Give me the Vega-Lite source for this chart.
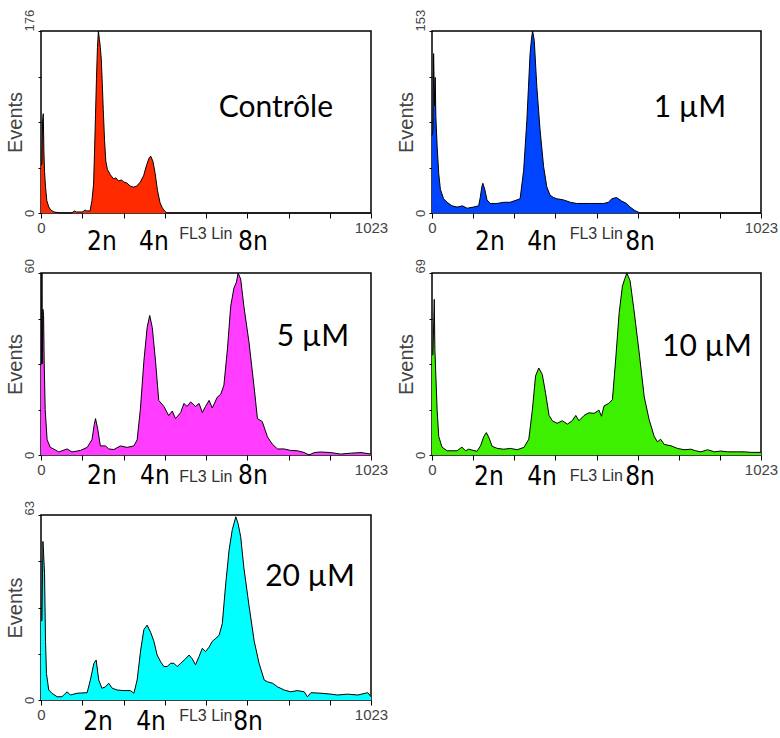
{
  "$schema": "https://vega.github.io/schema/vega-lite/v6.json",
  "background": "white",
  "padding": {"left": 4, "top": 8, "right": 5, "bottom": 0},
  "config": {
    "view": {"stroke": "#000", "strokeWidth": 1.5},
    "axis": {"grid": false, "domain": false, "tickColor": "#000", "labelColor": "#444", "labelFont": "Liberation Sans", "titleFont": "Liberation Sans", "titleFontWeight": "normal", "titleColor": "#444", "titleFontSize": 20, "format": "d", "labelOverlap": false, "labelBound": false},
    "axisX": {"tickSize": 5, "labelFontSize": 15, "labelPadding": 2, "labelFlush": false},
    "axisY": {"tickSize": 3, "labelFontSize": 13, "labelAngle": -90, "labelBaseline": "bottom", "labelPadding": 2, "titleFontSize": 20, "titlePadding": -2}
  },
  "datasets": {
    "ctrl": [{"ch":0,"ev":46},{"ch":3,"ev":48},{"ch":5,"ev":90},{"ch":7,"ev":96},{"ch":9,"ev":60},{"ch":11,"ev":40},{"ch":14,"ev":25},{"ch":18,"ev":12},{"ch":24,"ev":6},{"ch":30,"ev":3},{"ch":40,"ev":1},{"ch":60,"ev":0},{"ch":95,"ev":0},{"ch":104,"ev":2},{"ch":110,"ev":1},{"ch":130,"ev":1},{"ch":136,"ev":3},{"ch":142,"ev":2},{"ch":152,"ev":2},{"ch":158,"ev":12},{"ch":163,"ev":28},{"ch":166,"ev":60},{"ch":169,"ev":95},{"ch":172,"ev":130},{"ch":175,"ev":160},{"ch":178,"ev":176},{"ch":181,"ev":168},{"ch":184,"ev":160},{"ch":187,"ev":148},{"ch":190,"ev":125},{"ch":193,"ev":100},{"ch":197,"ev":70},{"ch":201,"ev":50},{"ch":206,"ev":42},{"ch":215,"ev":37},{"ch":225,"ev":33},{"ch":232,"ev":34},{"ch":240,"ev":31},{"ch":250,"ev":32},{"ch":256,"ev":30},{"ch":266,"ev":29},{"ch":277,"ev":26},{"ch":287,"ev":25},{"ch":297,"ev":26},{"ch":308,"ev":30},{"ch":318,"ev":36},{"ch":328,"ev":47},{"ch":335,"ev":53},{"ch":340,"ev":55},{"ch":347,"ev":50},{"ch":354,"ev":38},{"ch":361,"ev":22},{"ch":369,"ev":10},{"ch":376,"ev":5},{"ch":383,"ev":2},{"ch":390,"ev":0},{"ch":1023,"ev":0}],
    "um1": [{"ch":0,"ev":65},{"ch":3,"ev":70},{"ch":5,"ev":134},{"ch":8,"ev":90},{"ch":10,"ev":114},{"ch":12,"ev":81},{"ch":16,"ev":56},{"ch":21,"ev":33},{"ch":26,"ev":20},{"ch":36,"ev":12},{"ch":47,"ev":9},{"ch":62,"ev":6},{"ch":78,"ev":5},{"ch":95,"ev":6},{"ch":109,"ev":4},{"ch":129,"ev":5},{"ch":145,"ev":6},{"ch":150,"ev":13},{"ch":155,"ev":22},{"ch":158,"ev":25},{"ch":164,"ev":20},{"ch":171,"ev":11},{"ch":181,"ev":8},{"ch":202,"ev":8},{"ch":223,"ev":9},{"ch":243,"ev":9},{"ch":264,"ev":11},{"ch":274,"ev":12},{"ch":285,"ev":36},{"ch":295,"ev":78},{"ch":300,"ev":106},{"ch":305,"ev":134},{"ch":310,"ev":148},{"ch":313,"ev":153},{"ch":318,"ev":145},{"ch":326,"ev":106},{"ch":336,"ev":70},{"ch":347,"ev":39},{"ch":357,"ev":22},{"ch":367,"ev":15},{"ch":378,"ev":13},{"ch":388,"ev":12},{"ch":409,"ev":11},{"ch":430,"ev":9},{"ch":450,"ev":8},{"ch":492,"ev":8},{"ch":533,"ev":8},{"ch":549,"ev":9},{"ch":559,"ev":12},{"ch":574,"ev":13},{"ch":590,"ev":10},{"ch":605,"ev":8},{"ch":616,"ev":5},{"ch":631,"ev":2},{"ch":647,"ev":0},{"ch":1023,"ev":0}],
    "um5": [{"ch":0,"ev":30},{"ch":2,"ev":30},{"ch":3,"ev":60},{"ch":4,"ev":30},{"ch":6,"ev":48},{"ch":8,"ev":46},{"ch":10,"ev":30},{"ch":13,"ev":15},{"ch":19,"ev":5},{"ch":29,"ev":2.5},{"ch":39,"ev":2},{"ch":55,"ev":1},{"ch":81,"ev":2},{"ch":96,"ev":1},{"ch":122,"ev":1.5},{"ch":143,"ev":2.5},{"ch":158,"ev":5},{"ch":165,"ev":10},{"ch":169,"ev":12},{"ch":176,"ev":8.5},{"ch":184,"ev":3},{"ch":200,"ev":3},{"ch":210,"ev":2},{"ch":226,"ev":1.8},{"ch":246,"ev":3},{"ch":267,"ev":2.5},{"ch":288,"ev":3},{"ch":298,"ev":5},{"ch":308,"ev":15},{"ch":319,"ev":31},{"ch":329,"ev":42},{"ch":337,"ev":46},{"ch":345,"ev":42},{"ch":355,"ev":31},{"ch":365,"ev":18},{"ch":381,"ev":16},{"ch":396,"ev":13},{"ch":407,"ev":14.5},{"ch":417,"ev":12},{"ch":433,"ev":14},{"ch":443,"ev":17},{"ch":453,"ev":16},{"ch":464,"ev":17.5},{"ch":479,"ev":16},{"ch":490,"ev":17},{"ch":500,"ev":14},{"ch":510,"ev":16},{"ch":521,"ev":18},{"ch":531,"ev":15.5},{"ch":546,"ev":19},{"ch":557,"ev":20},{"ch":567,"ev":23},{"ch":578,"ev":35},{"ch":588,"ev":49},{"ch":598,"ev":55},{"ch":606,"ev":57},{"ch":611,"ev":60},{"ch":619,"ev":58},{"ch":629,"ev":49},{"ch":645,"ev":37},{"ch":660,"ev":23},{"ch":671,"ev":12},{"ch":686,"ev":11},{"ch":702,"ev":6},{"ch":717,"ev":3.6},{"ch":733,"ev":2},{"ch":753,"ev":2},{"ch":774,"ev":1.5},{"ch":795,"ev":1.4},{"ch":816,"ev":0.8},{"ch":831,"ev":0},{"ch":847,"ev":0.8},{"ch":867,"ev":1},{"ch":898,"ev":0.8},{"ch":929,"ev":0.3},{"ch":960,"ev":0.6},{"ch":992,"ev":0.8},{"ch":1023,"ev":0.3}],
    "um10": [{"ch":0,"ev":38},{"ch":3,"ev":38},{"ch":7,"ev":59},{"ch":9,"ev":40},{"ch":12,"ev":30},{"ch":16,"ev":17},{"ch":21,"ev":7},{"ch":31,"ev":3},{"ch":47,"ev":1.6},{"ch":78,"ev":1.6},{"ch":93,"ev":3},{"ch":104,"ev":1.6},{"ch":114,"ev":2.2},{"ch":140,"ev":1.4},{"ch":151,"ev":3.5},{"ch":161,"ev":7},{"ch":169,"ev":8.5},{"ch":177,"ev":6.6},{"ch":187,"ev":3.3},{"ch":203,"ev":2.5},{"ch":223,"ev":2.2},{"ch":244,"ev":2.5},{"ch":265,"ev":2},{"ch":286,"ev":2.9},{"ch":301,"ev":6},{"ch":312,"ev":17},{"ch":322,"ev":30},{"ch":332,"ev":33},{"ch":343,"ev":30.5},{"ch":353,"ev":23.6},{"ch":364,"ev":15},{"ch":374,"ev":13},{"ch":389,"ev":12},{"ch":405,"ev":13},{"ch":421,"ev":11.7},{"ch":436,"ev":13},{"ch":447,"ev":15},{"ch":457,"ev":13},{"ch":473,"ev":15},{"ch":488,"ev":16},{"ch":504,"ev":15.8},{"ch":519,"ev":17},{"ch":527,"ev":14.7},{"ch":535,"ev":18.6},{"ch":550,"ev":19.6},{"ch":561,"ev":21},{"ch":571,"ev":36},{"ch":582,"ev":54},{"ch":592,"ev":64},{"ch":600,"ev":67},{"ch":606,"ev":69},{"ch":616,"ev":66},{"ch":628,"ev":55},{"ch":644,"ev":39},{"ch":660,"ev":22},{"ch":675,"ev":13.5},{"ch":691,"ev":7},{"ch":701,"ev":5},{"ch":711,"ev":6},{"ch":722,"ev":4},{"ch":743,"ev":3.5},{"ch":763,"ev":2.5},{"ch":784,"ev":2},{"ch":805,"ev":2.2},{"ch":820,"ev":1.6},{"ch":836,"ev":1.2},{"ch":857,"ev":2},{"ch":878,"ev":1.2},{"ch":898,"ev":1.5},{"ch":919,"ev":1.2},{"ch":950,"ev":1.2},{"ch":971,"ev":1.2},{"ch":992,"ev":1},{"ch":1023,"ev":1}],
    "um20": [{"ch":0,"ev":27},{"ch":3,"ev":27},{"ch":6,"ev":54},{"ch":8,"ev":50},{"ch":11,"ev":43},{"ch":14,"ev":20},{"ch":17,"ev":9},{"ch":24,"ev":3.4},{"ch":34,"ev":2.3},{"ch":50,"ev":1.1},{"ch":65,"ev":1.1},{"ch":81,"ev":2.8},{"ch":91,"ev":1.7},{"ch":112,"ev":2.3},{"ch":143,"ev":2.5},{"ch":153,"ev":6.8},{"ch":164,"ev":12.5},{"ch":171,"ev":13.6},{"ch":179,"ev":6.8},{"ch":189,"ev":4},{"ch":200,"ev":4.5},{"ch":210,"ev":5.7},{"ch":221,"ev":4},{"ch":236,"ev":3.4},{"ch":257,"ev":3.2},{"ch":277,"ev":3.2},{"ch":288,"ev":2.3},{"ch":298,"ev":6.8},{"ch":309,"ev":17},{"ch":319,"ev":24},{"ch":329,"ev":25.5},{"ch":340,"ev":23},{"ch":350,"ev":20},{"ch":360,"ev":15.3},{"ch":371,"ev":13},{"ch":381,"ev":11.4},{"ch":391,"ev":11.4},{"ch":402,"ev":12.5},{"ch":412,"ev":12.5},{"ch":422,"ev":11.4},{"ch":433,"ev":12.5},{"ch":448,"ev":14},{"ch":459,"ev":15.3},{"ch":469,"ev":14},{"ch":479,"ev":12},{"ch":490,"ev":14.8},{"ch":500,"ev":17.6},{"ch":510,"ev":16.5},{"ch":521,"ev":18},{"ch":531,"ev":20},{"ch":542,"ev":21},{"ch":552,"ev":22},{"ch":562,"ev":26},{"ch":573,"ev":40},{"ch":583,"ev":51},{"ch":593,"ev":58},{"ch":604,"ev":62.4},{"ch":611,"ev":60},{"ch":619,"ev":55.6},{"ch":629,"ev":45},{"ch":645,"ev":32},{"ch":661,"ev":20},{"ch":676,"ev":12.5},{"ch":692,"ev":6.8},{"ch":702,"ev":6.2},{"ch":718,"ev":5.7},{"ch":733,"ev":4.5},{"ch":754,"ev":3.4},{"ch":774,"ev":2.8},{"ch":795,"ev":3.2},{"ch":816,"ev":2.8},{"ch":826,"ev":1.1},{"ch":837,"ev":2.5},{"ch":868,"ev":2.3},{"ch":899,"ev":2},{"ch":919,"ev":1.7},{"ch":950,"ev":2},{"ch":982,"ev":1.7},{"ch":1013,"ev":2.5},{"ch":1023,"ev":1.1}],
    "ploidy": [
      {"panel":"ctrl","ch":189,"t":"2n"},{"panel":"ctrl","ch":350,"t":"4n"},{"panel":"ctrl","ch":657,"t":"8n"},
      {"panel":"um1","ch":180,"t":"2n"},{"panel":"um1","ch":342,"t":"4n"},{"panel":"um1","ch":647,"t":"8n"},
      {"panel":"um5","ch":189,"t":"2n"},{"panel":"um5","ch":353,"t":"4n"},{"panel":"um5","ch":657,"t":"8n"},
      {"panel":"um10","ch":177,"t":"2n"},{"panel":"um10","ch":342,"t":"4n"},{"panel":"um10","ch":647,"t":"8n"},
      {"panel":"um20","ch":177,"t":"2n"},{"panel":"um20","ch":341,"t":"4n"},{"panel":"um20","ch":642,"t":"8n"}
    ],
    "axisnote": [{"ch":511,"t":"FL3 Lin"}],
    "cond": [
      {"panel":"ctrl","ch":728,"ev":92.8,"t":"Contrôle"},
      {"panel":"um1","ch":802,"ev":80.7,"t":"1 µM"},
      {"panel":"um5","ch":843,"ev":36,"t":"5 µM"},
      {"panel":"um10","ch":855,"ev":37.7,"t":"10 µM"},
      {"panel":"um20","ch":834,"ev":38.8,"t":"20 µM"}
    ]
  },
  "bounds": "flush",
  "columns": 2,
  "spacing": {"row": 60, "column": 61},
  "concat": [
    {
      "width": 330, "height": 182,
      "layer": [
        {"data": {"name": "ctrl"}, "mark": {"type": "area", "color": "#ff2a00", "opacity": 1, "fillOpacity": 1, "line": {"color": "#000", "strokeWidth": 1}},
         "encoding": {
           "x": {"field": "ch", "type": "quantitative", "title": null, "scale": {"domain": [0, 1023], "nice": false, "zero": false}, "axis": {"values": [0,128,256,384,512,640,768,896,1023], "labelExpr": "datum.value == 0 || datum.value == 1023 ? datum.label : ''"}},
           "y": {"field": "ev", "type": "quantitative", "title": "Events", "scale": {"domain": [0, 176], "nice": false}, "axis": {"titleFontSize": 20, "labelFontSize": 13, "values": [0,22,44,66,88,110,132,154,176], "labelExpr": "datum.value == 0 || datum.value == 176 ? datum.label : ''", "labelAlign": {"condition": {"test": "datum.value == 176", "value": "left"}, "value": "center"}}}
         }},
        {"data": {"name": "ploidy"}, "transform": [{"filter": "datum.panel == 'ctrl'"}], "mark": {"type": "text", "font": "Liberation Sans Narrow, DejaVu Sans Condensed, Liberation Sans", "fontSize": 26, "baseline": "alphabetic", "align": "center", "dy": 37, "color": "#000"},
         "encoding": {"x": {"field": "ch", "type": "quantitative"}, "y": {"datum": 0}, "text": {"field": "t"}}},
        {"data": {"name": "axisnote"}, "mark": {"type": "text", "font": "Liberation Sans", "fontSize": 16, "baseline": "alphabetic", "align": "center", "dy": 26, "color": "#333"},
         "encoding": {"x": {"field": "ch", "type": "quantitative"}, "y": {"datum": 0}, "text": {"field": "t"}}},
        {"data": {"name": "cond"}, "transform": [{"filter": "datum.panel == 'ctrl'"}], "mark": {"type": "text", "font": "Lato", "fontSize": 30, "baseline": "alphabetic", "align": "center", "color": "#000"},
         "encoding": {"x": {"field": "ch", "type": "quantitative"}, "y": {"field": "ev", "type": "quantitative"}, "text": {"field": "t"}}}
      ]
    },
    {
      "width": 329, "height": 182,
      "layer": [
        {"data": {"name": "um1"}, "mark": {"type": "area", "color": "#0044ff", "opacity": 1, "fillOpacity": 1, "line": {"color": "#000", "strokeWidth": 1}},
         "encoding": {
           "x": {"field": "ch", "type": "quantitative", "title": null, "scale": {"domain": [0, 1023], "nice": false, "zero": false}, "axis": {"values": [0,128,256,384,512,640,768,896,1023], "labelExpr": "datum.value == 0 || datum.value == 1023 ? datum.label : ''"}},
           "y": {"field": "ev", "type": "quantitative", "title": "Events", "scale": {"domain": [0, 153], "nice": false}, "axis": {"titleFontSize": 20, "labelFontSize": 13, "values": [0,19.125,38.25,57.375,76.5,95.625,114.75,133.875,153], "labelExpr": "datum.value == 0 || datum.value == 153 ? datum.label : ''", "labelAlign": {"condition": {"test": "datum.value == 153", "value": "left"}, "value": "center"}}}
         }},
        {"data": {"name": "ploidy"}, "transform": [{"filter": "datum.panel == 'um1'"}], "mark": {"type": "text", "font": "Liberation Sans Narrow, DejaVu Sans Condensed, Liberation Sans", "fontSize": 26, "baseline": "alphabetic", "align": "center", "dy": 37, "color": "#000"},
         "encoding": {"x": {"field": "ch", "type": "quantitative"}, "y": {"datum": 0}, "text": {"field": "t"}}},
        {"data": {"name": "axisnote"}, "mark": {"type": "text", "font": "Liberation Sans", "fontSize": 16, "baseline": "alphabetic", "align": "center", "dy": 26, "color": "#333"},
         "encoding": {"x": {"field": "ch", "type": "quantitative"}, "y": {"datum": 0}, "text": {"field": "t"}}},
        {"data": {"name": "cond"}, "transform": [{"filter": "datum.panel == 'um1'"}], "mark": {"type": "text", "font": "Lato", "fontSize": 30, "baseline": "alphabetic", "align": "center", "color": "#000"},
         "encoding": {"x": {"field": "ch", "type": "quantitative"}, "y": {"field": "ev", "type": "quantitative"}, "text": {"field": "t"}}}
      ]
    },
    {
      "width": 330, "height": 182,
      "layer": [
        {"data": {"name": "um5"}, "mark": {"type": "area", "color": "#ff3cff", "opacity": 1, "fillOpacity": 1, "line": {"color": "#000", "strokeWidth": 1}},
         "encoding": {
           "x": {"field": "ch", "type": "quantitative", "title": null, "scale": {"domain": [0, 1023], "nice": false, "zero": false}, "axis": {"values": [0,128,256,384,512,640,768,896,1023], "labelExpr": "datum.value == 0 || datum.value == 1023 ? datum.label : ''"}},
           "y": {"field": "ev", "type": "quantitative", "title": "Events", "scale": {"domain": [0, 60], "nice": false}, "axis": {"titleFontSize": 20, "labelFontSize": 13, "values": [0,7.5,15,22.5,30,37.5,45,52.5,60], "labelExpr": "datum.value == 0 || datum.value == 60 ? datum.label : ''", "labelAlign": {"condition": {"test": "datum.value == 60", "value": "left"}, "value": "center"}}}
         }},
        {"data": {"name": "ploidy"}, "transform": [{"filter": "datum.panel == 'um5'"}], "mark": {"type": "text", "font": "Liberation Sans Narrow, DejaVu Sans Condensed, Liberation Sans", "fontSize": 26, "baseline": "alphabetic", "align": "center", "dy": 29, "color": "#000"},
         "encoding": {"x": {"field": "ch", "type": "quantitative"}, "y": {"datum": 0}, "text": {"field": "t"}}},
        {"data": {"name": "axisnote"}, "mark": {"type": "text", "font": "Liberation Sans", "fontSize": 16, "baseline": "alphabetic", "align": "center", "dy": 27, "color": "#333"},
         "encoding": {"x": {"field": "ch", "type": "quantitative"}, "y": {"datum": 0}, "text": {"field": "t"}}},
        {"data": {"name": "cond"}, "transform": [{"filter": "datum.panel == 'um5'"}], "mark": {"type": "text", "font": "Lato", "fontSize": 30, "baseline": "alphabetic", "align": "center", "color": "#000"},
         "encoding": {"x": {"field": "ch", "type": "quantitative"}, "y": {"field": "ev", "type": "quantitative"}, "text": {"field": "t"}}}
      ]
    },
    {
      "width": 329, "height": 182,
      "layer": [
        {"data": {"name": "um10"}, "mark": {"type": "area", "color": "#3cf000", "opacity": 1, "fillOpacity": 1, "line": {"color": "#000", "strokeWidth": 1}},
         "encoding": {
           "x": {"field": "ch", "type": "quantitative", "title": null, "scale": {"domain": [0, 1023], "nice": false, "zero": false}, "axis": {"values": [0,128,256,384,512,640,768,896,1023], "labelExpr": "datum.value == 0 || datum.value == 1023 ? datum.label : ''"}},
           "y": {"field": "ev", "type": "quantitative", "title": "Events", "scale": {"domain": [0, 69], "nice": false}, "axis": {"titleFontSize": 20, "labelFontSize": 13, "values": [0,8.625,17.25,25.875,34.5,43.125,51.75,60.375,69], "labelExpr": "datum.value == 0 || datum.value == 69 ? datum.label : ''", "labelAlign": {"condition": {"test": "datum.value == 69", "value": "left"}, "value": "center"}}}
         }},
        {"data": {"name": "ploidy"}, "transform": [{"filter": "datum.panel == 'um10'"}], "mark": {"type": "text", "font": "Liberation Sans Narrow, DejaVu Sans Condensed, Liberation Sans", "fontSize": 26, "baseline": "alphabetic", "align": "center", "dy": 30, "color": "#000"},
         "encoding": {"x": {"field": "ch", "type": "quantitative"}, "y": {"datum": 0}, "text": {"field": "t"}}},
        {"data": {"name": "axisnote"}, "mark": {"type": "text", "font": "Liberation Sans", "fontSize": 16, "baseline": "alphabetic", "align": "center", "dy": 26, "color": "#333"},
         "encoding": {"x": {"field": "ch", "type": "quantitative"}, "y": {"datum": 0}, "text": {"field": "t"}}},
        {"data": {"name": "cond"}, "transform": [{"filter": "datum.panel == 'um10'"}], "mark": {"type": "text", "font": "Lato", "fontSize": 30, "baseline": "alphabetic", "align": "center", "color": "#000"},
         "encoding": {"x": {"field": "ch", "type": "quantitative"}, "y": {"field": "ev", "type": "quantitative"}, "text": {"field": "t"}}}
      ]
    },
    {
      "width": 330, "height": 185,
      "layer": [
        {"data": {"name": "um20"}, "mark": {"type": "area", "color": "#00ffff", "opacity": 1, "fillOpacity": 1, "line": {"color": "#000", "strokeWidth": 1}},
         "encoding": {
           "x": {"field": "ch", "type": "quantitative", "title": null, "scale": {"domain": [0, 1023], "nice": false, "zero": false}, "axis": {"values": [0,128,256,384,512,640,768,896,1023], "labelExpr": "datum.value == 0 || datum.value == 1023 ? datum.label : ''"}},
           "y": {"field": "ev", "type": "quantitative", "title": "Events", "scale": {"domain": [0, 63], "nice": false}, "axis": {"titleFontSize": 20, "labelFontSize": 13, "values": [0,7.875,15.75,23.625,31.5,39.375,47.25,55.125,63], "labelExpr": "datum.value == 0 || datum.value == 63 ? datum.label : ''", "labelAlign": {"condition": {"test": "datum.value == 63", "value": "left"}, "value": "center"}}}
         }},
        {"data": {"name": "ploidy"}, "transform": [{"filter": "datum.panel == 'um20'"}], "mark": {"type": "text", "font": "Liberation Sans Narrow, DejaVu Sans Condensed, Liberation Sans", "fontSize": 26, "baseline": "alphabetic", "align": "center", "dy": 30, "color": "#000"},
         "encoding": {"x": {"field": "ch", "type": "quantitative"}, "y": {"datum": 0}, "text": {"field": "t"}}},
        {"data": {"name": "axisnote"}, "mark": {"type": "text", "font": "Liberation Sans", "fontSize": 16, "baseline": "alphabetic", "align": "center", "dy": 21, "color": "#333"},
         "encoding": {"x": {"field": "ch", "type": "quantitative"}, "y": {"datum": 0}, "text": {"field": "t"}}},
        {"data": {"name": "cond"}, "transform": [{"filter": "datum.panel == 'um20'"}], "mark": {"type": "text", "font": "Lato", "fontSize": 30, "baseline": "alphabetic", "align": "center", "color": "#000"},
         "encoding": {"x": {"field": "ch", "type": "quantitative"}, "y": {"field": "ev", "type": "quantitative"}, "text": {"field": "t"}}}
      ]
    }
  ]
}
